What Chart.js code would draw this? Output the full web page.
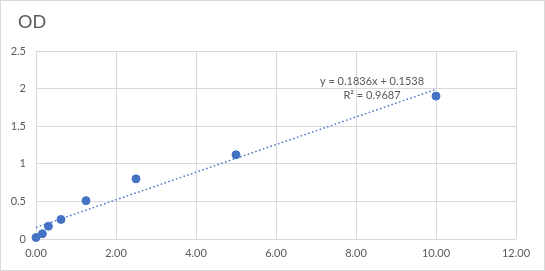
<!DOCTYPE html>
<html>
<head>
<meta charset="utf-8">
<script src="https://cdn.jsdelivr.net/npm/chart.js@4/dist/chart.umd.min.js"></script>
<style>
  html, body { margin: 0; padding: 0; background: #fff; }
  #wrap { width: 545px; height: 271px; position: relative; }
</style>
</head>
<body>
<div id="wrap"><canvas id="chart" width="545" height="271"></canvas></div>
<script>
const concentracion = [0, 0.16, 0.31, 0.625, 1.25, 2.5, 5, 10],
  od = [0.02, 0.07, 0.17, 0.26, 0.51, 0.8, 1.12, 1.9];

const pendiente = 0.1836,
  intercepto = 0.1538,
  r2 = 0.9687;

const xTicks = [0, 2, 4, 6, 8, 10, 12],
  yTicks = [0, 0.5, 1, 1.5, 2, 2.5];

const azul = "#4472C4",
  gris = "#595959",
  rejilla = "#d9d9d9";

const tendencia = [0, 10].map((x) => ({ x: x, y: pendiente * x + intercepto }));

// marco, titulo y ecuacion a la manera de Excel
const extras = {
  id: "extras",
  beforeDraw(chart) {
    const ctx = chart.ctx;
    ctx.save();
    ctx.fillStyle = "#fff";
    ctx.fillRect(0, 0, chart.width, chart.height);
    ctx.strokeStyle = rejilla;
    ctx.lineWidth = 1;
    ctx.strokeRect(0.5, 0.5, chart.width - 1, chart.height - 1);
    ctx.restore();
  },
  afterDraw(chart) {
    const ctx = chart.ctx,
      xs = chart.scales.x,
      ys = chart.scales.y;
    ctx.save();
    ctx.fillStyle = gris;
    ctx.font = "18px Lato";
    ctx.textBaseline = "middle";
    ctx.textAlign = "left";
    ctx.fillText("OD", 18, 22);

    ctx.font = "11px Lato";
    ctx.textAlign = "center";
    const cx = xs.getPixelForValue(8.4);
    ctx.fillText(`y = ${pendiente}x + ${intercepto}`, cx, ys.getPixelForValue(2.09));
    ctx.fillText(`R² = ${r2}`, cx, ys.getPixelForValue(1.915));
    ctx.restore();
  },
};

const ctx = document.getElementById("chart").getContext("2d");
new Chart(ctx, {
  type: "scatter",
  data: {
    datasets: [
      {
        label: "OD",
        data: concentracion.map((x, i) => ({ x: x, y: od[i] })),
        backgroundColor: azul,
        borderColor: azul,
        pointRadius: 4,
        pointHoverRadius: 4,
        clip: false,
        order: 1,
      },
      {
        label: "Tendencia",
        type: "line",
        data: tendencia,
        borderColor: azul,
        borderWidth: 1.5,
        borderDash: [1.5, 2.5],
        pointRadius: 0,
        fill: false,
        order: 2,
      },
    ],
  },
  options: {
    responsive: false,
    animation: false,
    layout: { padding: { top: 51, right: 29, left: 0, bottom: 0 } },
    plugins: {
      legend: { display: false },
      title: { display: false },
      tooltip: { enabled: false },
    },
    scales: {
      x: {
        type: "linear",
        min: xTicks[0],
        max: xTicks[xTicks.length - 1],
        afterBuildTicks: (s) => { s.ticks = xTicks.map((v) => ({ value: v })); },
        afterFit: (s) => { s.height = 32; },
        ticks: {
          color: gris,
          font: { family: "Lato", size: 11 },
          padding: 8,
          callback: (v) => Number(v).toFixed(2),
        },
        grid: { color: rejilla, drawTicks: false },
        border: { display: false },
      },
      y: {
        min: yTicks[0],
        max: yTicks[yTicks.length - 1],
        afterBuildTicks: (s) => { s.ticks = yTicks.map((v) => ({ value: v })); },
        afterFit: (s) => { s.width = 36; },
        ticks: {
          color: gris,
          font: { family: "Lato", size: 11 },
          padding: 10,
          callback: (v) => String(Number(v)),
        },
        grid: { color: rejilla, drawTicks: false },
        border: { display: false },
      },
    },
  },
  plugins: [extras],
});
</script>
</body>
</html>
